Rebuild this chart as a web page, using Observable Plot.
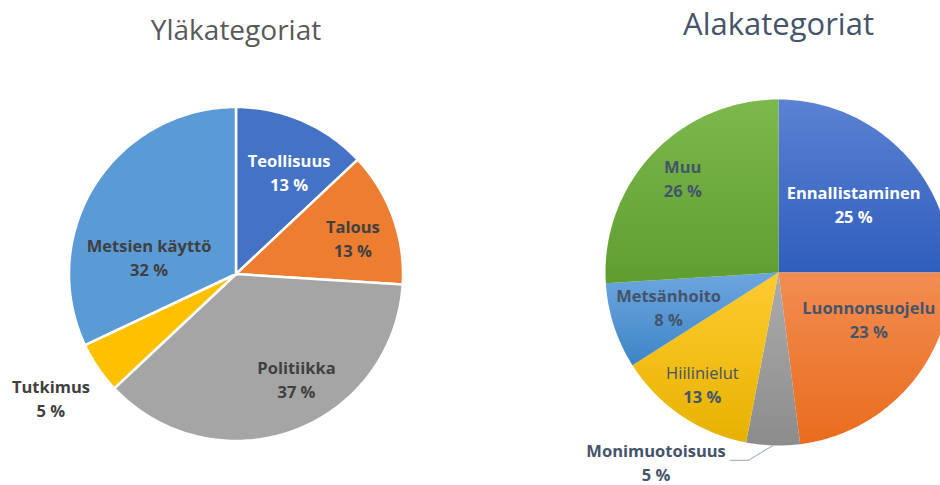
<!DOCTYPE html>
<html><head><meta charset="utf-8">
<script src="https://cdn.jsdelivr.net/npm/d3@7"></script>
<script src="https://cdn.jsdelivr.net/npm/@observablehq/plot@0.6"></script>
<style>body{margin:0;background:#fff}</style>
</head><body><div id="chart"></div>
<script>
// ---- data ----
const topTitle = "Yläkategoriat";
const topCats = ["Teollisuus", "Talous", "Politiikka", "Tutkimus", "Metsien käyttö"];
const topVals = [13, 13, 37, 5, 32];
const subTitle = "Alakategoriat";
const subCats = ["Ennallistaminen", "Luonnonsuojelu", "Monimuotoisuus", "Hiilinielut", "Metsänhoito", "Muu"];
const subVals = [25, 23, 5, 13, 8, 26];

// ---- layout / styles ----
const W = 940, H = 485;
const FONT = "Open Sans";
const LABEL_SIZE = 16.5;
const pies = [
  {title: topTitle, cats: topCats, vals: topVals, cx: 235.5, cy: 273.5, r: 167, titleY: 31, titleSize: 28, titleColor: "#595959",
   sep: 2.5, gradient: false,
   colors: ["#4472C4", "#ED7D31", "#A5A5A5", "#FFC000", "#5B9BD5"],
   textColor: ["#ffffff", "#404040", "#404040", "#404040", "#404040"],
   nameWeight: ["bold", "bold", "bold", "bold", "bold"],
   nudge: [[8, 4], [10, 4], [22, 0], [0, 0], [9, 46]],
   outside: [null, null, null, 1.34, null]},
  {title: subTitle, cats: subCats, vals: subVals, cx: 778, cy: 272, r: 173, titleY: 25, titleSize: 31, titleColor: "#44546A",
   sep: 0, gradient: true,
   colors: [["#5b82d2", "#2f5ebd"], ["#f28d52", "#e96c1c"], ["#acacac", "#8c8c8c"], ["#ffcb30", "#e6b200"], ["#6da6df", "#3d85c6"], ["#7db84d", "#5e9e30"]],
   textColor: ["#ffffff", "#44546A", "#44546A", "#44546A", "#44546A", "#44546A"],
   nameWeight: ["bold", "bold", "bold", "normal", "bold", "bold"],
   nudge: [[-8, 16], [2, -30], [0, 0], [-10, 16], [2, 0], [-10, -12]],
   outside: [null, null, [-117, 18], null, null, null]}
];

const marks = [];
const defs = [];
pies.forEach((p, pi) => {
  const total = d3.sum(p.vals);
  let acc = 0;
  p.cats.forEach((name, i) => {
    const a0 = acc / total * 2 * Math.PI;
    acc += p.vals[i];
    const a1 = acc / total * 2 * Math.PI;
    const n = Math.max(2, Math.ceil((a1 - a0) / (Math.PI / 180)));
    const pts = [{x: p.cx, y: p.cy}];
    for (let k = 0; k <= n; k++) {
      const a = a0 + (a1 - a0) * k / n;
      pts.push({x: p.cx + p.r * Math.sin(a), y: p.cy - p.r * Math.cos(a)});
    }
    let fill;
    if (p.gradient) {
      const id = `g${pi}_${i}`;
      defs.push(`<linearGradient id="${id}" x1="0" y1="0" x2="0" y2="1"><stop offset="0" stop-color="${p.colors[i][0]}"/><stop offset="1" stop-color="${p.colors[i][1]}"/></linearGradient>`);
      fill = `url(#${id})`;
    } else fill = p.colors[i];
    marks.push(Plot.line(pts, {x: "x", y: "y", curve: "linear-closed", fill,
      stroke: p.sep ? "#ffffff" : "none", strokeWidth: p.sep, strokeLinejoin: "round"}));

    // labels
    const am = (a0 + a1) / 2;
    const pct = `${p.vals[i]} %`;
    let lx, ly, leader = null;
    const out = p.outside[i];
    if (out == null) {
      const rr = 0.68 * p.r;
      lx = p.cx + rr * Math.sin(am) + p.nudge[i][0];
      ly = p.cy - rr * Math.cos(am) + p.nudge[i][1];
    } else if (typeof out === "number") {
      lx = p.cx + out * p.r * Math.sin(am);
      ly = p.cy - out * p.r * Math.cos(am);
    } else {
      const ex = p.cx + p.r * Math.sin(am), ey = p.cy - p.r * Math.cos(am);
      lx = ex + out[0]; ly = ey + out[1];
      leader = [{x: lx + 74, y: ly - 3}, {x: lx + 92, y: ly - 3}, {x: ex, y: ey}];
    }
    const lab = [{x: lx, y: ly, name, pct}];
    marks.push(Plot.text(lab, {x: "x", y: "y", text: "name", dy: -12, fontSize: LABEL_SIZE, fontWeight: p.nameWeight[i], fill: p.textColor[i], fontFamily: FONT}));
    marks.push(Plot.text(lab, {x: "x", y: "y", text: "pct", dy: 12, fontSize: LABEL_SIZE, fontWeight: "bold", fill: p.textColor[i], fontFamily: FONT}));
    if (leader) marks.push(Plot.line(leader, {x: "x", y: "y", stroke: "#a9b7c9", strokeWidth: 1.2}));
  });
  marks.push(Plot.text([{x: p.cx, y: p.titleY, t: p.title}], {x: "x", y: "y", text: "t", fontSize: p.titleSize, fill: p.titleColor, fontFamily: FONT}));
});

const svg = Plot.plot({
  width: W, height: H, margin: 0,
  x: {domain: [0, W], axis: null},
  y: {domain: [H, 0], axis: null},
  style: {fontFamily: FONT, background: "#fff"},
  marks
});
svg.insertAdjacentHTML("afterbegin", `<defs>${defs.join("")}</defs>`);
document.getElementById("chart").appendChild(svg);
</script>
</body></html>
